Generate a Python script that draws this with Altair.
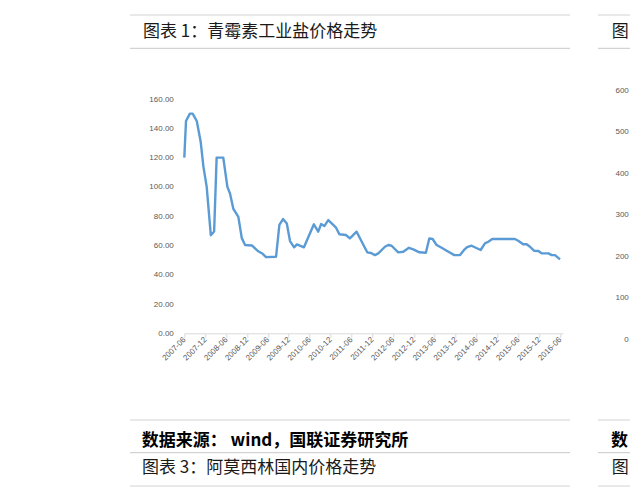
import altair as alt
import pandas as pd

# ---- data ----
dates = [
    "2007-06-01", "2007-06-16", "2007-07-20", "2007-08-13", "2007-09-18", "2007-10-22",
    "2007-11-15", "2007-12-14", "2008-01-19", "2008-02-17", "2008-03-10", "2008-05-07",
    "2008-06-12", "2008-07-05", "2008-08-03", "2008-08-27", "2008-09-16", "2008-10-16",
    "2008-11-14", "2009-01-12", "2009-03-09", "2009-04-17", "2009-05-16", "2009-08-12",
    "2009-09-10", "2009-10-12", "2009-11-14", "2009-12-12", "2010-01-17", "2010-02-10",
    "2010-04-13", "2010-06-05", "2010-07-09", "2010-08-16", "2010-09-10", "2010-10-08",
    "2010-11-12", "2011-01-19", "2011-02-17", "2011-04-15", "2011-05-20", "2011-07-18",
    "2011-09-01", "2011-10-19", "2011-11-21", "2011-12-25", "2012-01-24", "2012-03-22",
    "2012-04-20", "2012-05-19", "2012-07-16", "2012-08-29", "2012-10-18", "2012-11-25",
    "2013-01-17", "2013-03-15", "2013-04-14", "2013-05-13", "2013-06-17", "2013-07-31",
    "2013-09-28", "2013-11-19", "2014-01-08", "2014-02-12", "2014-03-11", "2014-04-19",
    "2014-05-26", "2014-07-07", "2014-08-14", "2014-09-12", "2014-10-17", "2015-05-03",
    "2015-06-01", "2015-07-14", "2015-08-14", "2015-09-12", "2015-10-17", "2015-11-24",
    "2015-12-23", "2016-02-20", "2016-03-20", "2016-04-18", "2016-06-01",
]
prices = [
    120, 145, 150, 150, 145, 131,
    114, 100, 67, 69.5, 120, 120,
    100, 95.5, 85, 82, 79.5, 65,
    60.3, 60, 56, 54.3, 52, 52.3,
    74, 78, 75, 63, 58.7, 60.7,
    58.7, 68.3, 74.4, 69.4, 74.6, 73.2,
    77.3, 72.1, 67.6, 67.1, 64.8, 69.4,
    62.5, 55.3, 54.8, 53.4, 54.6, 59.1,
    60.3, 59.8, 55.3, 55.7, 58.4, 57.3,
    55.3, 55, 64.8, 64.4, 60.3, 58.4,
    55.7, 53.4, 53.4, 56.9, 58.8, 59.8,
    58.4, 56.9, 61.4, 62.5, 64.4, 64.4,
    63.2, 60.8, 60.8, 59.1, 56.4, 56.2,
    54.6, 54.6, 53.4, 53.4, 50.5,
]
x_ticks = [
    "2007-06", "2007-12", "2008-06", "2008-12", "2009-06", "2009-12", "2010-06",
    "2010-12", "2011-06", "2011-12", "2012-06", "2012-12", "2013-06", "2013-12",
    "2014-06", "2014-12", "2015-06", "2015-12", "2016-06",
]
y_ticks = [0, 20, 40, 60, 80, 100, 120, 140, 160]
right_ticks = [600, 500, 400, 300, 200, 100, 0]

title_text = "图表 1：青霉素工业盐价格走势"
source_text = "数据来源： wind，国联证券研究所"
next_title = "图表 3：阿莫西林国内价格走势"

CJK = "Noto Sans CJK SC"
LAT = "Liberation Sans"
GREY = "#595959"
RULE = "#d3d3d3"

df = pd.DataFrame({"date": dates, "price": prices})


def dt(s, day=1):
    y, m = s.split("-")[:2]
    return alt.DateTime(year=int(y), month=int(m), date=day, utc=True)


tick_vals = [dt(t) for t in x_ticks]

W, H = 378.7, 234.3
one = pd.DataFrame({"k": [0]})

line = alt.Chart(df).mark_line(color="#5B9BD5", strokeWidth=2.4, strokeJoin="round").encode(
    x=alt.X(
        "date:T",
        title=None,
        scale=alt.Scale(type="utc", domain=[dt("2007-06"), dt("2016-06", 27)], nice=False),
        axis=alt.Axis(
            values=tick_vals,
            labelExpr="utcFormat(datum.value, '%Y-%m')",
            labelAngle=-45,
            labelAlign="right",
            labelBaseline="middle",
            labelFont=LAT,
            labelFontSize=8,
            labelColor=GREY,
            labelPadding=1,
            labelOverlap=False,
            labelFlush=False,
            tickSize=4,
            tickColor="#d9d9d9",
            domainColor="#d9d9d9",
            grid=False,
        ),
    ),
    y=alt.Y(
        "price:Q",
        title=None,
        scale=alt.Scale(domain=[0, 160], nice=False),
        axis=alt.Axis(
            values=y_ticks,
            format=".2f",
            labelFont=LAT,
            labelFontSize=8,
            labelColor=GREY,
            labelPadding=11,
            domain=False,
            ticks=False,
            grid=False,
        ),
    ),
)


def hrule(x1, x2, y):
    return alt.Chart(one).mark_rule(color=RULE, strokeWidth=1.2).encode(
        x=alt.value(x1), x2=alt.value(x2), y=alt.value(y)
    )


def label(txt, x, y, size=17, weight="normal", font=CJK, color="#1a1a1a", align="left"):
    return alt.Chart(one).mark_text(
        align=align, baseline="middle", font=font, fontSize=size,
        fontWeight=weight, color=color
    ).encode(x=alt.value(x), y=alt.value(y), text=alt.value(txt))


rules = [
    hrule(-54.3, 385.7, -84), hrule(413.7, 450, -84),
    hrule(-54.3, 385.7, -50.7), hrule(413.7, 450, -50.7),
    hrule(-54.3, 385.7, 321), hrule(413.7, 450, 321),
    hrule(-54.3, 385.7, 353.7), hrule(413.7, 450, 353.7),
    hrule(-54.3, 385.7, 387), hrule(413.7, 450, 387),
]

texts = [
    label(title_text, -41.3, -67),
    label("图", 427.4, -67),
    label(source_text, -42.6, 341.7, weight="bold", color="#000000"),
    label("数", 426.7, 341.7, weight="bold", color="#000000"),
    label(next_title, -42.3, 369),
    label("图", 427.4, 369),
]

rdf = pd.DataFrame({"v": right_ticks, "t": [str(v) for v in right_ticks]})
right = alt.Chart(rdf).mark_text(
    align="right", baseline="middle", font=LAT, fontSize=8, color=GREY
).encode(
    x=alt.value(444.5),
    y=alt.Y("v:Q", scale=alt.Scale(domain=[0, 600], range=[240.7, -8.3], nice=False), axis=None),
    text="t:N",
)

chart = alt.layer(line, right, *rules, *texts).resolve_scale(y="independent").properties(
    width=W,
    height=H,
    padding={"left": 184.3, "top": 99, "right": 67, "bottom": 168.7},
    autosize=alt.AutoSizeParams(type="none"),
    background="white",
).configure_view(stroke=None)

chart.save("out.html", embed_options={"renderer": "svg", "actions": False})
